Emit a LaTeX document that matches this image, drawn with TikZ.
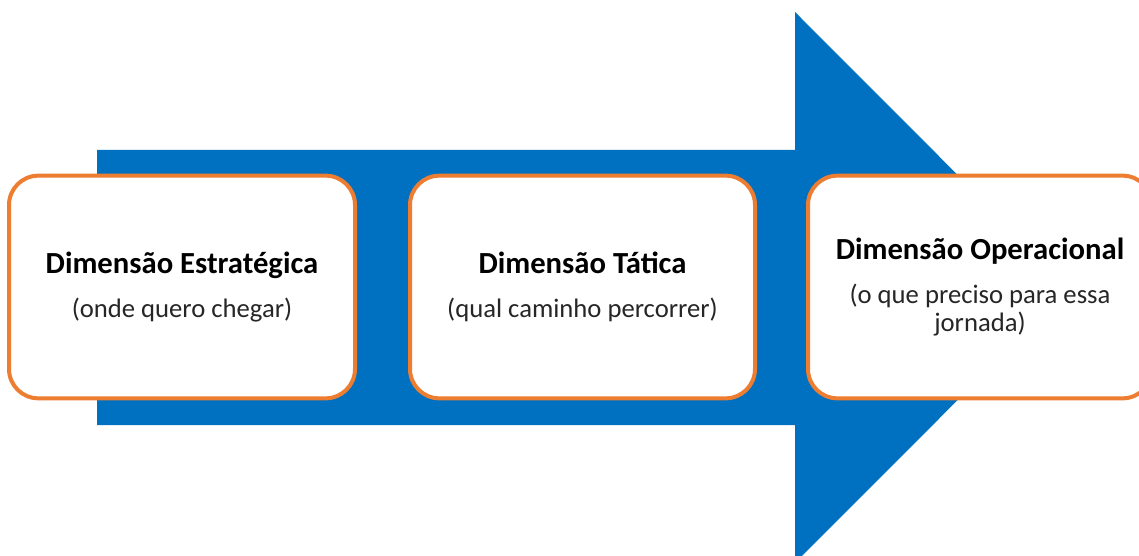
\documentclass[tikz,border=0pt]{standalone}
\usepackage{fontspec}
\setmainfont{Carlito}
\definecolor{arrowblue}{HTML}{0070C0}
\definecolor{boxorange}{HTML}{ED7D31}
\definecolor{subgray}{HTML}{262626}
\begin{document}
\begin{tikzpicture}[x=0.75pt,y=-0.75pt,
  dimbox/.style={draw=boxorange, line width=3pt, fill=white, rounded corners=22pt,
    align=center, inner sep=0pt, font=\fontsize{20}{21}\selectfont, text=subgray}]
\clip (0,0) rectangle (1139,556);
\fill[white] (0,0) rectangle (1139,556);
\fill[arrowblue] (97,150) -- (795,150) -- (795,12) -- (1070,287.5) -- (795,563) -- (795,425) -- (97,425) -- cycle;
\node[dimbox, minimum width=259.5pt, minimum height=167pt] (s) at (182,287)
  {{\fontsize{23}{24}\selectfont\bfseries\color{black}Dimensão Estratégica}\\[12pt](onde quero chegar)};
\node[dimbox, minimum width=258.75pt, minimum height=167pt] (t) at (582.5,287)
  {{\fontsize{23}{24}\selectfont\bfseries\color{black}Dimensão Tática}\\[12pt](qual caminho percorrer)};
\node[dimbox, minimum width=258pt, minimum height=167pt] (o) at (980,287)
  {{\fontsize{23}{24}\selectfont\bfseries\color{black}Dimensão Operacional}\\[12pt](o que preciso para essa\\jornada)};
\end{tikzpicture}
\end{document}
